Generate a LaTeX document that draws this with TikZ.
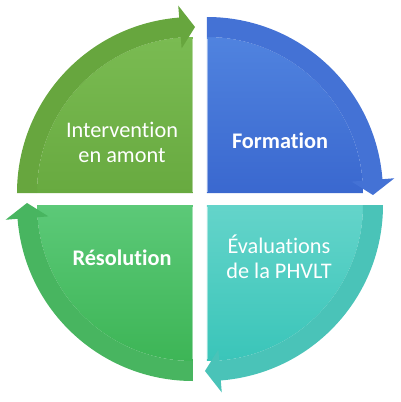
\documentclass[tikz,border=0pt]{standalone}
\usepackage{fontspec}
\setmainfont[Ligatures=NoCommon]{Carlito}
\usepackage{tikz}
\usetikzlibrary{shapes.geometric,arrows}
\definecolor{AmontTop}{HTML}{7ABB52}
\definecolor{AmontBot}{HTML}{68AA40}
\definecolor{AmontBand}{HTML}{67A63E}
\definecolor{FormTop}{HTML}{5083DF}
\definecolor{FormBot}{HTML}{3A68CF}
\definecolor{FormBand}{HTML}{4472D5}
\definecolor{EvalTop}{HTML}{64D4CA}
\definecolor{EvalBot}{HTML}{3AC5B9}
\definecolor{EvalBand}{HTML}{4AC3B8}
\definecolor{ResoTop}{HTML}{5CC978}
\definecolor{ResoBot}{HTML}{3DB556}
\definecolor{ResoBand}{HTML}{48B560}
\tikzstyle{quartertext} = [text=white, 
align=center, 
font=\fontsize{22.3}{25}\selectfont]
\tikzstyle{quarterbold} = [quartertext, 
font=\fontsize{22.3}{25}\selectfont\bfseries]
\tikzstyle{edgelight} = [white, opacity=0.45, line width=1.2pt]
% #1 corner, #2 angle where the arrow ends, #3 #4 fill, #5 band, #6 vertical edge
\newcommand{\quarter}[6]{%
\begin{scope}[shift={#1}]
\shade[top color=#3, bottom color=#4] (0,0) -- (#2+90:156) arc[start angle=#2+90, end angle=#2, radius=156] -- cycle;
\draw[edgelight] (#6:1.5) -- (#6:154);
\fill[#5] (#2+90:156) -- (#2+90:176) arc[start angle=#2+90, end angle=#2+4.5, radius=176]
  -- (#2+4.5:188) -- (#2-0.7:166) -- (#2+4.5:145) -- (#2+4.5:156)
  arc[start angle=#2+4.5, end angle=#2+90, radius=156] -- cycle;
\end{scope}}

\begin{document}
\begin{tikzpicture}[x=1pt, y=1pt]
                \useasboundingbox (-200,-203) rectangle (200,199);
                \quarter{(-7,6)}{90}{AmontTop}{AmontBot}{AmontBand}{90}
                \quarter{(7,6)}{0}{FormTop}{FormBot}{FormBand}{90}
                \quarter{(7,-6)}{-90}{EvalTop}{EvalBot}{EvalBand}{-90}
                \quarter{(-7,-6)}{180}{ResoTop}{ResoBot}{ResoBand}{-90}

                \node[quartertext] (amont) at (-78,57) {Intervention\\en amont};
                \node[quarterbold] (form) at (80,58) {Formation};
                \node[quartertext] (eval) at (79,-58) {Évaluations\\de la PHVLT};
                \node[quarterbold] (reso) at (-78,-59) {Résolution};
            \end{tikzpicture}
\end{document}
